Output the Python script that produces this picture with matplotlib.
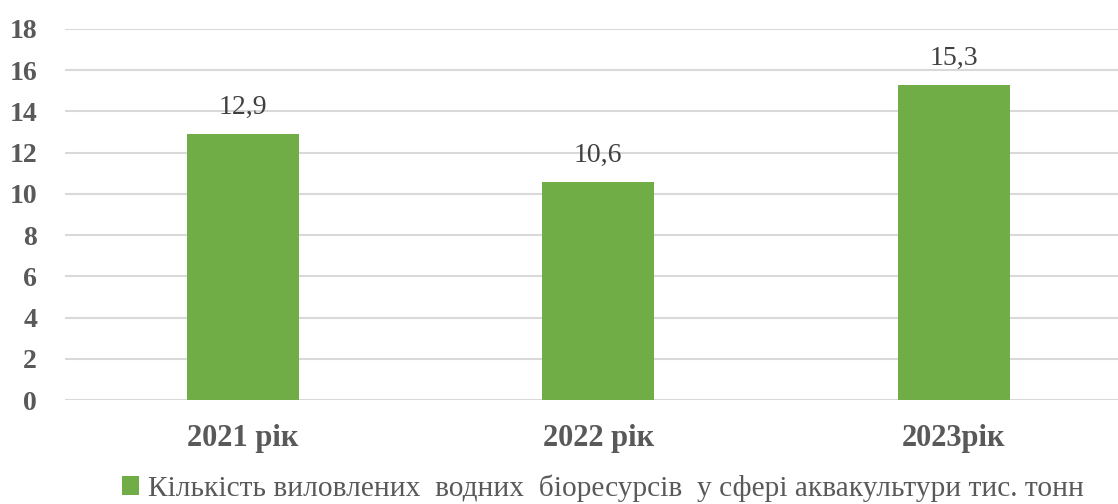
import matplotlib.pyplot as plt
from matplotlib import font_manager
import numpy as np

categories = ['2021 рік', '2022 рік', '2023рік']
values = [12.9, 10.6, 15.3]
value_labels = ['12,9', '10,6', '15,3']
series_name = 'Кількість виловлених  водних  біоресурсів  у сфері аквакультури тис. тонн'


def main():
    reg = font_manager.FontProperties(
        fname=font_manager.findfont(font_manager.FontProperties(family='Liberation Serif')))
    bold = font_manager.FontProperties(
        fname=font_manager.findfont(font_manager.FontProperties(family='Liberation Serif', weight='bold')))

    fig = plt.figure(figsize=(11.18, 5.04), dpi=100)
    ax = fig.add_axes([65 / 1118, 104 / 504, 1053 / 1118, 371 / 504])

    x = np.arange(len(categories))
    bars = ax.bar(x, values, width=0.315, color='#70AD47', label=series_name, zorder=3)

    for b, lab in zip(bars, value_labels):
        ax.annotate(lab, (b.get_x() + b.get_width() / 2, b.get_height()),
                    xytext=(0, 10), textcoords='offset points', ha='center', va='bottom',
                    fontproperties=reg, fontsize=20, color='#404040')

    ax.set_xlim(-0.5, -0.5 + 1053 / 355.5)
    ax.set_ylim(0, 18)
    ax.set_yticks(range(0, 19, 2))
    ax.set_xticks(x)
    ax.set_xticklabels(categories)
    ax.grid(axis='y', color='#D9D9D9', linewidth=1.5, zorder=0)
    for s in ['top', 'right', 'left', 'bottom']:
        ax.spines[s].set_visible(False)
    ax.tick_params(length=0)
    ax.tick_params(axis='y', pad=20)
    ax.tick_params(axis='x', pad=17)
    for t in ax.get_yticklabels():
        t.set_fontproperties(bold)
        t.set_color('#595959')
        t.set_fontsize(20)
    for t in ax.get_xticklabels():
        t.set_fontproperties(bold)
        t.set_color('#595959')
        t.set_fontsize(22)

    leg_prop = reg.copy()
    leg_prop.set_size(21.2)
    leg = fig.legend(loc='center', bbox_to_anchor=(603 / 1118, 1 - 488 / 504), frameon=False,
                     prop=leg_prop, handlelength=0.6, handleheight=0.6, handletextpad=0.3,
                     borderpad=0, borderaxespad=0)
    for t in leg.get_texts():
        t.set_color('#595959')

    fig.savefig('out.png', dpi=100)


if __name__ == "__main__":
    main()
